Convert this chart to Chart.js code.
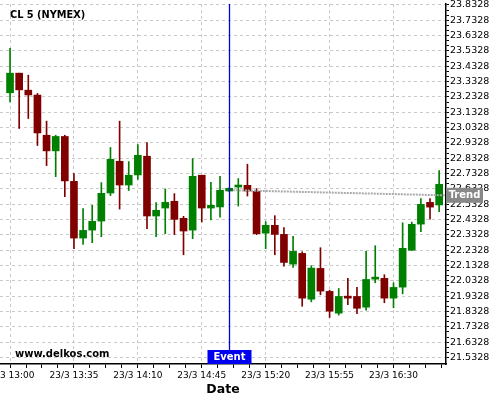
<!DOCTYPE html>
<html>
<head>
<meta charset="utf-8">
<script src="https://cdn.jsdelivr.net/npm/chart.js@4.4.0/dist/chart.umd.min.js"></script>
<style>
  html, body { margin: 0; padding: 0; background: #fff; }
  #wrap { width: 500px; height: 400px; }
</style>
</head>
<body>
<div id="wrap"><canvas id="cl"></canvas></div>
<script>
/* CL 5 (NYMEX) — 5 min candles */
const times = ['13:00','13:05','13:10','13:15','13:20','13:25','13:30','13:35','13:40','13:45','13:50','13:55',
               '14:00','14:05','14:10','14:15','14:20','14:25','14:30','14:35','14:40','14:45','14:50','14:55',
               '15:00','15:05','15:10','15:15','15:20','15:25','15:30','15:35','15:40','15:45','15:50','15:55',
               '16:00','16:05','16:10','16:15','16:20','16:25','16:30','16:35','16:40','16:45','16:50','16:55'];
const open  = [23.260,23.388,23.277,23.245,22.983,22.881,22.975,22.682,22.312,22.364,22.423,22.606,
               22.813,22.658,22.724,22.846,22.456,22.508,22.552,22.441,22.364,22.722,22.508,22.515,
               22.619,22.645,22.656,22.617,22.344,22.395,22.336,22.142,22.212,21.913,22.114,21.964,
               21.822,21.933,21.931,21.861,22.044,22.049,21.920,21.992,22.233,22.403,22.545,22.528];
const high  = [23.550,23.388,23.375,23.256,23.075,22.983,22.983,22.733,22.504,22.526,22.674,22.903,
               23.075,22.811,22.922,22.935,22.543,22.632,22.602,22.454,22.831,22.722,22.676,22.715,
               22.640,22.700,22.794,22.635,22.419,22.458,22.380,22.323,22.223,22.132,22.249,21.972,
               21.983,22.049,21.990,22.225,22.262,22.073,22.020,22.412,22.416,22.569,22.569,22.752];
const low   = [23.201,23.027,23.092,22.916,22.785,22.713,22.582,22.243,22.271,22.282,22.321,22.589,
               22.501,22.622,22.694,22.373,22.321,22.341,22.334,22.203,22.308,22.417,22.430,22.449,
               22.615,22.521,22.586,22.334,22.243,22.203,22.129,22.120,21.867,21.896,21.942,21.794,
               21.809,21.877,21.818,21.841,22.020,21.890,21.857,21.948,22.231,22.354,22.436,22.484];
const close = [23.388,23.279,23.246,22.998,22.881,22.975,22.685,22.312,22.362,22.421,22.604,22.826,
               22.658,22.722,22.852,22.456,22.493,22.545,22.434,22.358,22.715,22.508,22.526,22.624,
               22.637,22.654,22.619,22.341,22.395,22.336,22.153,22.225,21.920,22.116,21.966,21.835,
               21.931,21.920,21.854,22.042,22.050,21.920,21.990,22.245,22.402,22.532,22.514,22.663];
const tickLabels = ['23/3 13:00','23/3 13:35','23/3 14:10','23/3 14:45','23/3 15:20','23/3 15:55','23/3 16:30'];
const yTicks = ['23.8328','23.7328','23.6328','23.5328','23.4328','23.3328','23.2328','23.1328','23.0328',
                '22.9328','22.8328','22.7328','22.6328','22.5328','22.4328','22.3328','22.2328','22.1328',
                '22.0328','21.9328','21.8328','21.7328','21.6328','21.5328'];
const eventTime = '15:00';
const trendPoints = [[24.4, 22.624], [47.6, 22.591]];

const GREEN = '#008000', RED = '#800000';
const candleCol = open.map((o, i) => close[i] >= o ? GREEN : RED);
const eventX = times.indexOf(eventTime);

// x ticks: majors at the labelled times, 3 minors between
const xMajors = tickLabels.map(l => times.indexOf(l.split(' ')[1]));
const xTickVals = [];
for (let v = 0; v <= 47.5; v += 1.75) xTickVals.push(+v.toFixed(2));
const isXMajor = v => xMajors.includes(v);

// y ticks: majors from the labels, 2 minors between
const yTop = parseFloat(yTicks[0]);
const yBottom = parseFloat(yTicks[yTicks.length - 1]);
const yTickVals = [];
for (let k = 0; k <= (yTicks.length - 1) * 3; k++) yTickVals.push(+(yTop - k * 0.1 / 3).toFixed(4));

const fontTick = 'DejaVu Sans';

const overlay = {
  id: 'overlay',
  afterDatasetsDraw(chart) {
    const {ctx, chartArea: a, scales: {x, y}} = chart;
    ctx.save();
    // event line
    const ex = Math.round(x.getPixelForValue(eventX)) + 0.5;
    ctx.strokeStyle = '#0000e6';
    ctx.lineWidth = 1.3;
    ctx.beginPath(); ctx.moveTo(ex, a.top); ctx.lineTo(ex, a.bottom); ctx.stroke();
    ctx.fillStyle = '#0000f0';
    ctx.fillRect(ex - 22, a.bottom - 14, 44, 14);
    ctx.fillStyle = '#fff';
    ctx.font = 'bold 10px "DejaVu Sans"';
    ctx.textAlign = 'center'; ctx.textBaseline = 'middle';
    ctx.fillText('Event', ex, a.bottom - 6.5);
    // title + watermark
    ctx.fillStyle = '#000';
    ctx.textAlign = 'left';
    ctx.font = 'bold 9.8px "DejaVu Sans"';
    ctx.fillText('CL 5 (NYMEX)', 10, 15.5);
    ctx.font = 'bold 10px "DejaVu Sans"';
    ctx.fillText('www.delkos.com', 15, 354);
    ctx.restore();
  },
  afterDraw(chart) {
    const {ctx, chartArea: a, scales: {y}} = chart;
    const ty = y.getPixelForValue(trendPoints[1][1]);
    ctx.save();
    ctx.fillStyle = '#888';
    ctx.fillRect(a.right, ty - 7.5, 37, 15);
    ctx.fillStyle = '#fff';
    ctx.font = 'bold 10px "DejaVu Sans"';
    ctx.textAlign = 'center'; ctx.textBaseline = 'middle';
    ctx.fillText('Trend', a.right + 18.5, ty + 0.5);
    ctx.restore();
  }
};

new Chart(document.getElementById('cl'), {
  type: 'bar',
  data: {
    datasets: [
      {
        label: 'wick',
        data: times.map((t, i) => ({x: i, y: [low[i], high[i]]})),
        backgroundColor: candleCol,
        barThickness: 1,
        grouped: false,
        order: 2,
      },
      {
        label: 'body',
        data: times.map((t, i) => ({x: i, y: [open[i], close[i]]})),
        backgroundColor: candleCol,
        barThickness: 7,
        minBarLength: 2,
        grouped: false,
        order: 1,
      },
      {
        type: 'line',
        label: 'Trend',
        data: trendPoints.map(p => ({x: p[0], y: p[1]})),
        borderColor: '#aaa',
        borderWidth: 2,
        borderDash: [2, 1],
        pointRadius: 0,
        order: 0,
      }
    ]
  },
  options: {
    responsive: true,
    maintainAspectRatio: false,
    animation: false,
    layout: { padding: { top: 4, left: 0, right: 0, bottom: 0 } },
    plugins: { legend: { display: false }, tooltip: { enabled: false } },
    scales: {
      x: {
        type: 'linear',
        min: -1.1, max: 47.75,
        offset: false,
        afterBuildTicks: s => { s.ticks = xTickVals.map(v => ({value: v})); },
        afterFit: s => { s.height = 36; s.paddingLeft = 0; s.paddingRight = 0; },
        grid: {
          offset: false,
          color: c => (c.tick && isXMajor(c.tick.value)) ? '#c8c8c8' : 'rgba(0,0,0,0)',
          tickColor: '#000',
          tickBorderDash: [],
          tickLength: 4,
          tickWidth: 1,
        },
        border: { color: '#000', width: 1.5, dash: [3, 3] },
        ticks: {
          autoSkip: false, maxRotation: 0, padding: 2,
          color: '#000',
          font: { family: fontTick, size: 9 },
          callback: v => { const k = xMajors.indexOf(v); return k >= 0 ? tickLabels[k] : ''; }
        },
        title: {
          display: true, text: 'Date', color: '#000',
          font: { family: 'DejaVu Sans', size: 12.5, weight: 'bold' },
          padding: { top: 0, bottom: 3 }
        }
      },
      y: {
        position: 'right',
        min: yBottom - 0.0425,
        max: yTop + 0.0065,
        afterBuildTicks: s => { s.ticks = yTickVals.map(v => ({value: v})); },
        afterFit: s => { s.width = 54; s.paddingTop = 0; s.paddingBottom = 0; },
        grid: {
          color: c => (c.index % 3 === 0) ? '#c8c8c8' : 'rgba(0,0,0,0)',
          tickColor: '#000',
          tickBorderDash: [],
          tickLength: 3,
        },
        border: { color: '#000', width: 1.5, dash: [3, 3] },
        ticks: {
          autoSkip: false, padding: 1,
          color: '#000',
          font: { family: fontTick, size: 9.5 },
          callback: (v, i) => i % 3 === 0 ? yTicks[i / 3] : ''
        }
      }
    }
  },
  plugins: [overlay]
});
</script>
</body>
</html>
